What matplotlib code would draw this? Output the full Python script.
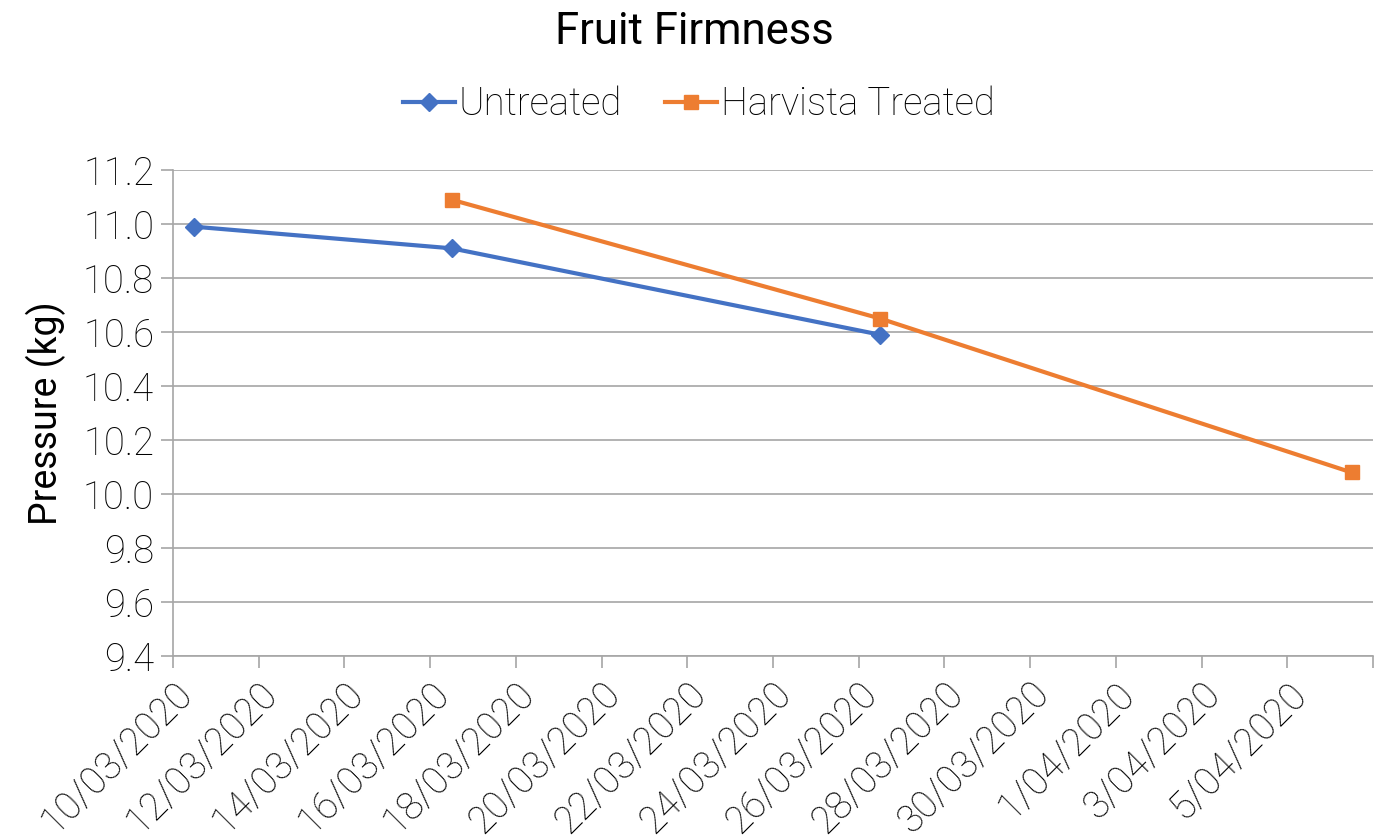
import datetime as dt

import matplotlib
matplotlib.use("Agg")
import matplotlib.pyplot as plt
import matplotlib.dates as mdates
import matplotlib.transforms as mtransforms

plt.rcParams["font.family"] = ["Roboto", "DejaVu Sans"]

# data
untreated_dates = ["2020-03-10", "2020-03-16", "2020-03-26"]
untreated_vals = [10.99, 10.91, 10.59]
treated_dates = ["2020-03-16", "2020-03-26", "2020-04-06"]
treated_vals = [11.09, 10.65, 10.08]

x_start, x_end = "2020-03-10", "2020-04-07"
y_ticks = [9.4, 9.6, 9.8, 10.0, 10.2, 10.4, 10.6, 10.8, 11.0, 11.2]

BLUE = "#4472C4"
ORANGE = "#ED7D31"
GRID = "#A6A6A6"
FS = 27.5


def to_num(days):
    # Excel date axis puts points in the middle of the day slot
    return [mdates.date2num(dt.datetime.fromisoformat(d)) + 0.5 for d in days]


fig = plt.figure(figsize=(13.81, 8.4), dpi=100)
ax = fig.add_axes([0.1253, 0.219, 0.9942 - 0.1253, 0.7976 - 0.219])

ax.plot(to_num(untreated_dates), untreated_vals, color=BLUE, lw=3,
        marker="D", ms=9, label="Untreated")
ax.plot(to_num(treated_dates), treated_vals, color=ORANGE, lw=3,
        marker="s", ms=10, label="Harvista Treated")

x0 = mdates.date2num(dt.datetime.fromisoformat(x_start))
x1 = mdates.date2num(dt.datetime.fromisoformat(x_end))
ax.set_xlim(x0, x1)
ax.set_ylim(y_ticks[0], y_ticks[-1])

xt = [x0 + 2 * i for i in range(int((x1 - x0) / 2) + 1)]
labels = []
for i, v in enumerate(xt):
    d = mdates.num2date(v)
    labels.append(f"{d.day}/{d.month:02d}/{d.year}" if i < len(xt) - 1 else "")
ax.set_xticks(xt)
ax.set_xticklabels(labels, rotation=45, ha="right", rotation_mode="anchor",
                   fontsize=FS, fontweight="light", color="black")
shift = mtransforms.ScaledTranslation(5 / 72, 0, fig.dpi_scale_trans)
for lab in ax.get_xticklabels():
    lab.set_transform(lab.get_transform() + shift)
ax.set_yticks(y_ticks)
ax.set_yticklabels([f"{v:.1f}" for v in y_ticks], fontsize=FS,
                   fontweight="light", color="black")

ax.yaxis.grid(True, color=GRID, lw=1.2)
ax.set_axisbelow(True)
for s in ["top", "right"]:
    ax.spines[s].set_visible(False)
for s in ["left", "bottom"]:
    ax.spines[s].set_color(GRID)
    ax.spines[s].set_linewidth(1.2)
ax.tick_params(axis="both", direction="out", length=8.6, color=GRID, width=1.2)
ax.tick_params(axis="y", pad=5)
ax.tick_params(axis="x", pad=5)

ax.set_ylabel("Pressure (kg)", fontsize=27, fontweight="normal",
              color="black", labelpad=12)
fig.suptitle("Fruit Firmness", fontsize=31.5, x=0.503, y=0.987, color="black")
fig.legend(loc="center", bbox_to_anchor=(0.506, 0.876), ncol=2, frameon=False,
           prop={"weight": "light", "size": FS}, labelcolor="black",
           handlelength=1.35, columnspacing=1.15, handletextpad=0.1)

fig.savefig("out.png", dpi=100)
